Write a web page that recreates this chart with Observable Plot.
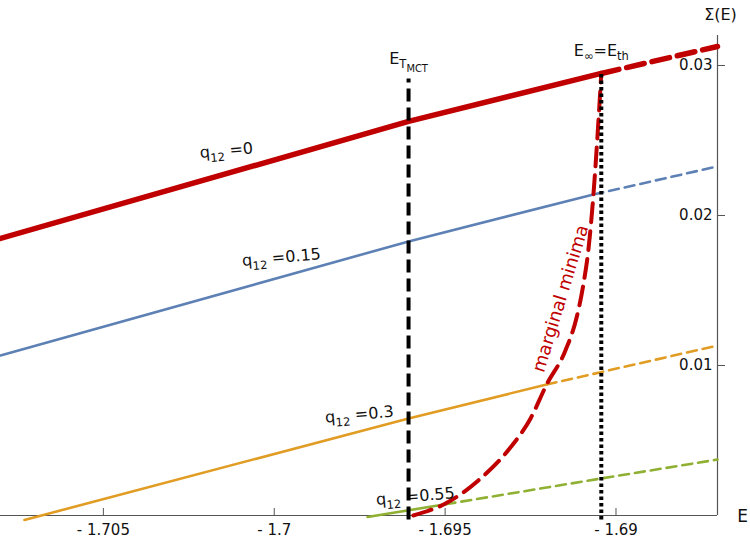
<!DOCTYPE html>
<html>
<head>
<meta charset="utf-8">
<script src="https://cdn.jsdelivr.net/npm/d3@7"></script>
<script src="https://cdn.jsdelivr.net/npm/@observablehq/plot@0.6"></script>
<style>
  html, body { margin: 0; padding: 0; background: #fff; }
  #chart { width: 750px; height: 544px; }
</style>
</head>
<body>
<div id="chart"></div>
<script>
// Complexity Σ(E) versus energy E for several overlaps q12.
const xDomain = [-1.70801, -1.68703];
const yDomain = [0, 0.032];
const xTicks = [-1.705, -1.7, -1.695, -1.69];
const xTickLabels = ["- 1.705", "- 1.7", "- 1.695", "- 1.69"];
const yTicks = [0.01, 0.02, 0.03];
const yTickLabels = ["0.01", "0.02", "0.03"];

// characteristic energies
const E_MCT = -1.69607;
const E_TH = -1.69043;

// [E, Σ] — solid part (before the marginal line) and dashed part (after it)
const q0Solid = [[-1.70801, 0.01847], [-1.69607, 0.02627], [-1.69043, 0.02947]];
const q0Dashed = [[-1.69043, 0.02947], [-1.68703, 0.03127]];
const q015Solid = [[-1.70801, 0.01067], [-1.69607, 0.01827], [-1.69066, 0.0214]];
const q015Dashed = [[-1.69066, 0.0214], [-1.68703, 0.02327]];
const q03Solid = [[-1.70731, -0.0003], [-1.69607, 0.00647], [-1.69203, 0.00873]];
const q03Dashed = [[-1.69203, 0.00873], [-1.68703, 0.01133]];
const q055Solid = [[-1.69727, -0.0001], [-1.69499, 0.00075]];
const q055Dashed = [[-1.69499, 0.00075], [-1.69043, 0.00247], [-1.68703, 0.00373]];

// line of marginal minima
const marginalE = [-1.69593, -1.69499, -1.69396, -1.69309, -1.6925, -1.69203, -1.69148,
                   -1.69116, -1.69096, -1.69081, -1.69066, -1.69055, -1.69043];
const marginalSigma = [0, 0.0008, 0.00247, 0.00453, 0.00647, 0.00873, 0.011,
                       0.01313, 0.01533, 0.01767, 0.0214, 0.025, 0.02947];

// curve labels
const qLabels = ["q_{12} =0", "q_{12} =0.15", "q_{12} =0.3", "q_{12} =0.55"];
const qLabelE = [-1.7014, -1.69979, -1.69751, -1.69587];
const qLabelSigma = [0.02433, 0.0172, 0.00673, 0.00127];

const RED = "#c00000", BLUE = "#5e81b5", ORANGE = "#e19c24", GREEN = "#8fb032";
const AXIS = "#555";

const marginal = marginalE.map((e, i) => [e, marginalSigma[i]]);
const px = d => d[0], py = d => d[1];

const thin = {x: px, y: py, strokeWidth: 2.6};

const chart = Plot.plot({
  width: 750,
  height: 544,
  marginLeft: 0,
  marginRight: 33,
  marginTop: 35,
  marginBottom: 29,
  style: {fontFamily: "'DejaVu Sans', sans-serif", fontSize: "15px", background: "#fff", overflow: "visible"},
  x: {domain: xDomain},
  y: {domain: yDomain},
  marks: [
    // axes
    Plot.ruleY([0], {stroke: AXIS, strokeWidth: 1.2}),
    Plot.ruleX([xDomain[1]], {stroke: AXIS, strokeWidth: 1.2}),
    Plot.axisX(xTicks, {anchor: "bottom", tickSize: -7, tickFormat: () => "", stroke: AXIS, label: null}),
    Plot.axisX(xTicks, {anchor: "bottom", tickSize: 0, tickPadding: 9, fontSize: 15, fill: "#111",
      tickFormat: d => xTickLabels[xTicks.indexOf(d)], label: null}),
    Plot.axisY(yTicks, {anchor: "right", tickSize: 7, tickFormat: () => "", stroke: AXIS, label: null}),
    Plot.axisY(yTicks, {anchor: "right", tickSize: 0, tickPadding: -5, textAnchor: "end", fontSize: 15, fill: "#111",
      tickFormat: d => yTickLabels[yTicks.indexOf(d)], label: null}),
    Plot.text(["Σ(E)"], {x: () => xDomain[1], y: () => 0.0334, dx: 3, fontSize: 16, fill: "#111"}),
    Plot.text(["E"], {x: () => xDomain[1], y: () => 0, dx: 25, dy: 1, fontSize: 17, fill: "#111"}),

    // Σ(E) curves
    Plot.line(q055Solid, {...thin, stroke: GREEN}),
    Plot.line(q055Dashed, {...thin, stroke: GREEN, strokeDasharray: "10,6"}),
    Plot.line(q03Solid, {...thin, stroke: ORANGE}),
    Plot.line(q03Dashed, {...thin, stroke: ORANGE, strokeDasharray: "10,6"}),
    Plot.line(q015Solid, {...thin, stroke: BLUE}),
    Plot.line(q015Dashed, {...thin, stroke: BLUE, strokeDasharray: "10,6"}),
    Plot.line(q0Solid, {x: px, y: py, stroke: RED, strokeWidth: 5.5}),
    Plot.line(q0Dashed, {x: px, y: py, stroke: RED, strokeWidth: 5.5, strokeDasharray: "18,8"}),

    // marginal minima
    Plot.line(marginal, {x: px, y: py, stroke: RED, strokeWidth: 4, strokeDasharray: "19,9", curve: "monotone-x"}),
    Plot.text(["marginal minima"], {x: () => -1.69162, y: () => 0.01447, rotate: -73, fontSize: 18, fill: RED}),

    // q12 labels
    Plot.text(qLabels, {x: (d, i) => qLabelE[i], y: (d, i) => qLabelSigma[i], text: d => d,
      rotate: -5, fontSize: 16, fill: "#111"}),

    // E_MCT and E_th
    Plot.ruleX([E_MCT], {y1: -0.0003, y2: 0.0291, stroke: "#000", strokeWidth: 4, strokeDasharray: "13,6"}),
    Plot.ruleX([E_TH], {y1: -0.0003, y2: 0.02947, stroke: "#000", strokeWidth: 4, strokeDasharray: "3.5,3"}),
    Plot.text(["E_{T}__{MCT}"], {x: () => E_MCT, y: () => 0.03047, fontSize: 16, fill: "#111"}),
    Plot.text(["E_{∞}=E_{th}"], {x: () => E_TH, y: () => 0.031, fontSize: 16, fill: "#111"})
  ]
});

document.getElementById("chart").appendChild(chart);

// turn "_{..}" (subscript) and "__{..}" (second-level subscript) into tspans
function subscripts(svg) {
  d3.select(svg).selectAll("text").each(function () {
    const el = d3.select(this);
    const src = el.text();
    if (!src.includes("_{")) return;
    const base = parseFloat(getComputedStyle(this).fontSize) || 16;
    const sizes = [1, 0.72, 0.62];
    const shifts = [0, 0.3, 0.52];
    el.text(null);
    let cur = 0;
    const re = /(_{1,2})\{([^}]*)\}|([^_]+)/g;
    let m;
    while ((m = re.exec(src))) {
      const level = m[1] ? m[1].length : 0;
      const str = m[1] ? m[2] : m[3];
      const target = shifts[level] * base;
      el.append("tspan")
        .attr("dy", (target - cur).toFixed(2))
        .attr("font-size", (sizes[level] * base).toFixed(2))
        .text(str);
      cur = target;
    }
  });
}
subscripts(chart);
</script>
</body>
</html>
